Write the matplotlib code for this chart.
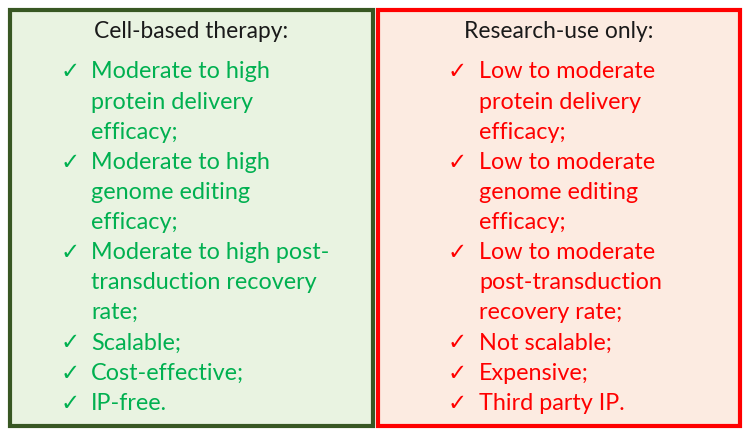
import matplotlib
matplotlib.use("Agg")
from matplotlib import pyplot as plt
from matplotlib.patches import Rectangle

plt.rcParams["font.family"] = ["Lato", "DejaVu Sans"]

# each item is a list of wrapped lines; a check mark goes before the first line
leftTitle = "Cell-based therapy:"
leftItems = [
    ["Moderate to high", "protein delivery", "efficacy;"],
    ["Moderate to high", "genome editing", "efficacy;"],
    ["Moderate to high post-", "transduction recovery", "rate;"],
    ["Scalable;"],
    ["Cost-effective;"],
    ["IP-free."],
]
rightTitle = "Research-use only:"
rightItems = [
    ["Low to moderate", "protein delivery", "efficacy;"],
    ["Low to moderate", "genome editing", "efficacy;"],
    ["Low to moderate", "post-transduction", "recovery rate;"],
    ["Not scalable;"],
    ["Expensive;"],
    ["Third party IP."],
]

fig = plt.figure(figsize=(7.5, 4.39), dpi=100)
ax = fig.add_axes([0, 0, 1, 1])
ax.set_xlim(0, 750)
ax.set_ylim(439, 0)
ax.axis("off")


def draw_panel(x0, x1, fill, edge, txtcol, title, items, checkX, textX):
    ax.add_patch(Rectangle((x0, 11), x1 - x0, 416, facecolor=fill, edgecolor=edge, lw=3))
    ax.text((x0 + x1) / 2, 32, title, ha="center", va="center", fontsize=16.4, color="#1a1a1a")
    y = 72
    for item in items:
        ax.text(checkX, y, "\u2713", ha="center", va="center", fontsize=16.5, color=txtcol,
                family="DejaVu Sans")
        for line in item:
            ax.text(textX, y, line, ha="left", va="center", fontsize=16.8, color=txtcol)
            y += 30.1


draw_panel(10, 373, "#E9F3E1", "#385723", "#00B050", leftTitle, leftItems, 70, 91)
draw_panel(378, 740, "#FCEBE1", "#FF0000", "#FF0000", rightTitle, rightItems, 457, 479)

fig.savefig("out.png", dpi=100)
